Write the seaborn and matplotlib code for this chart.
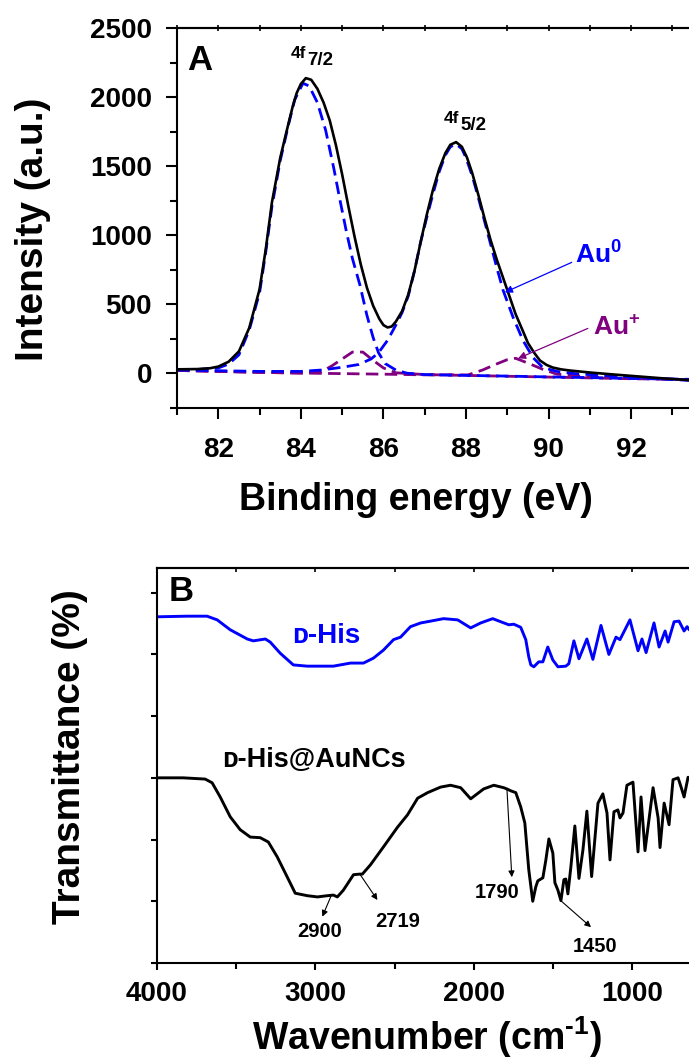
import matplotlib
matplotlib.use("Agg")
import matplotlib.pyplot as plt
import seaborn as sns
from matplotlib.ticker import MultipleLocator, NullFormatter
from matplotlib.transforms import offset_copy

# ---------------- XPS Au 4f (panel A) ----------------
# fitted envelope
env_be = [81.0, 81.5, 81.8, 82.0, 82.25, 82.5, 82.75, 83.0, 83.15, 83.3, 83.5, 83.66,
          83.8, 83.9, 84.0, 84.12, 84.25, 84.4, 84.55, 84.7, 84.85, 85.0, 85.15, 85.3,
          85.45, 85.6, 85.75, 85.9, 86.0, 86.1, 86.2, 86.3, 86.45, 86.6, 86.75, 86.9,
          87.05, 87.2, 87.35, 87.5, 87.62, 87.76, 87.9, 88.02, 88.15, 88.3, 88.45,
          88.6, 88.75, 88.9, 89.05, 89.2, 89.37, 89.5, 89.65, 89.79, 89.95, 90.1,
          90.3, 90.5, 91.0, 91.6, 92.2, 92.8, 93.4]
env_int = [30, 32, 38, 50, 85, 160, 330, 610, 900, 1240, 1560, 1760,
           1930, 2030, 2095, 2137, 2125, 2060, 1960, 1830, 1650, 1440, 1210, 990,
           790, 620, 490, 395, 350, 333, 340, 375, 450, 570, 740, 950,
           1150, 1330, 1480, 1595, 1655, 1674, 1640, 1565, 1450, 1290, 1120,
           960, 819, 690, 560, 430, 312, 220, 150, 94, 62, 43,
           30, 22, 7, -8, -22, -36, -48]

# Au0 4f7/2 component
au0a_be = [81.0, 81.5, 82.0, 82.25, 82.5, 82.75, 83.0, 83.15, 83.3, 83.5, 83.7, 83.85,
           84.05, 84.2, 84.4, 84.6, 84.8, 84.95, 85.1, 85.25, 85.43, 85.6, 85.75,
           85.88, 86.04, 86.3, 86.57, 87.0, 88.0, 89.0, 90.0, 91.0, 92.0, 93.4]
au0a_int = [28, 29, 40, 68, 135, 315, 585, 880, 1210, 1540, 1800, 1980,
            2100, 2080, 1960, 1760, 1480, 1250, 1030, 830, 640, 420, 260,
            150, 72, 25, 2, -8, -14, -19, -25, -30, -36, -42]

# Au0 4f5/2 component
au0b_be = [81.0, 82.0, 83.0, 84.0, 84.5, 85.0, 85.4, 85.7, 85.88, 86.1, 86.3, 86.45,
           86.6, 86.75, 86.9, 87.05, 87.2, 87.35, 87.5, 87.62, 87.76, 87.9, 88.0,
           88.15, 88.3, 88.45, 88.6, 88.75, 88.9, 89.14, 89.38, 89.62, 89.86, 90.2,
           90.6, 91.0, 91.6, 92.2, 92.8, 93.4]
au0b_int = [25, 20, 15, 15, 25, 45, 65, 105, 150, 240, 350, 440,
            560, 740, 950, 1130, 1300, 1460, 1580, 1640, 1660, 1625, 1560,
            1430, 1270, 1100, 930, 760, 600, 406, 239, 116, 43, 15,
            0, -8, -20, -30, -40, -50]

# Au+ 4f7/2 component
aupa_be = [81.0, 82.0, 83.0, 84.0, 84.5, 84.75, 85.0, 85.25, 85.5, 85.75, 86.0, 86.3,
           87.0, 88.0, 89.0, 90.0, 91.0, 92.0, 93.4]
aupa_int = [22, 15, 8, 3, 12, 55, 105, 155, 155, 95, 40, 5,
            -8, -14, -20, -26, -32, -38, -44]

# Au+ 4f5/2 component
aupb_be = [81.0, 82.0, 83.0, 84.0, 85.0, 86.0, 87.0, 88.05, 88.4, 88.75, 89.0, 89.2,
           89.5, 89.86, 90.2, 91.0, 92.0, 93.4]
aupb_int = [22, 15, 8, 3, -1, -5, -10, -10, 25, 70, 100, 110,
            75, 30, -5, -25, -34, -44]

# ---------------- FTIR (panel B) ----------------
his_wn = [3994, 3810, 3684, 3620, 3538, 3430, 3392, 3316, 3285, 3222, 3139, 3051,
          2886, 2778, 2696, 2633, 2570, 2506, 2462, 2399, 2335, 2272, 2190, 2101,
          2019, 1956, 1880, 1829, 1778, 1747, 1703, 1671, 1652, 1639, 1620, 1589,
          1563, 1532, 1500, 1468, 1418, 1399, 1367, 1335, 1285, 1247, 1196, 1146,
          1101, 1076, 1013, 962, 937, 911, 861, 829, 791, 772, 734, 703, 671, 652, 639]
his_t = [56.1, 56.2, 56.2, 55.6, 54.0, 52.5, 52.2, 52.5, 52.0, 50.2, 48.3, 48.1,
         48.1, 48.6, 48.6, 49.4, 50.7, 52.4, 52.8, 54.5, 55.1, 55.4, 55.8, 55.6,
         54.3, 55.1, 55.8, 55.3, 54.8, 54.9, 54.4, 52.4, 49.6, 48.3, 48.0, 48.8,
         48.8, 51.2, 49.1, 48.0, 48.1, 48.5, 52.2, 49.3, 52.5, 49.2, 54.7, 50.0,
         52.8, 52.4, 55.6, 50.6, 52.5, 50.3, 55.1, 51.2, 53.8, 52.0, 55.3, 55.4,
         53.8, 54.5, 54.0]

auncs_wn = [3994, 3835, 3696, 3652, 3601, 3538, 3475, 3411, 3348, 3297, 3241, 3177,
            3127, 3051, 2987, 2924, 2886, 2861, 2823, 2759, 2719, 2703, 2652, 2570,
            2481, 2418, 2354, 2291, 2209, 2146, 2082, 2019, 1937, 1873, 1810, 1790,
            1766, 1734, 1703, 1677, 1652, 1627, 1608, 1595, 1563, 1544, 1525, 1500,
            1487, 1468, 1449, 1430, 1418, 1405, 1386, 1361, 1335, 1310, 1285, 1255,
            1215, 1184, 1158, 1139, 1114, 1089, 1076, 1057, 1032, 994, 962, 943, 918,
            867, 835, 823, 797, 766, 741, 709, 690, 671, 646]
auncs_t = [30.0, 30.0, 29.8, 29.2, 26.9, 23.7, 21.6, 20.4, 20.3, 19.6, 17.2, 13.9,
           11.3, 10.9, 10.7, 10.9, 11.0, 10.7, 11.8, 14.3, 14.4, 14.4, 15.9, 18.8,
           22.0, 24.0, 26.7, 27.6, 28.5, 28.8, 28.4, 26.6, 28.2, 28.8, 28.4, 28.2,
           27.9, 27.6, 25.3, 22.7, 15.1, 10.0, 12.3, 13.3, 13.8, 16.7, 20.1, 17.8,
           13.0, 11.8, 10.1, 13.5, 13.6, 11.2, 15.6, 22.2, 13.7, 18.3, 24.6, 14.0,
           25.9, 27.4, 24.3, 16.7, 24.5, 24.8, 23.5, 24.3, 28.8, 29.3, 18.0, 26.9, 18.2,
           28.4, 23.5, 18.7, 25.9, 22.4, 29.7, 30.0, 28.5, 26.9, 30.1]

# marked bands: label, wavenumber on the AuNCs curve, arrow tip, label position
band_labels = ["2900", "2719", "1790", "1450"]
band_wn = [2900, 2719, 1790, 1450]
band_t = [10.9, 14.4, 28.2, 10.1]
band_tip_wn = [2956, 2608, 1759, 1259]
band_tip_t = [7.5, 10.2, 13.9, 5.8]
band_text_wn = [2970, 2481, 1855, 1233]
band_text_t = [4.2, 5.8, 10.5, 1.8]

BLUE = "#0000FF"
PURPLE = "#800080"

sns.set_theme(style="ticks")
plt.rcParams.update({
    "font.family": ["Liberation Sans", "DejaVu Sans"],
    "font.weight": "bold",
    "axes.labelweight": "bold",
    "mathtext.fontset": "custom",
    "mathtext.rm": "Liberation Sans:bold",
    "mathtext.bf": "Liberation Sans:bold",
    "mathtext.it": "Liberation Sans:bold",
    "axes.linewidth": 1.5,
    "axes.edgecolor": "black",
    "text.color": "black",
    "axes.labelcolor": "black",
    "xtick.color": "black",
    "ytick.color": "black",
    "axes.facecolor": "white",
    "figure.facecolor": "white",
})

fig = plt.figure(figsize=(6.89, 10.59), dpi=100)
axA = fig.add_axes([0.2569, 0.6147, 0.7431, 0.3589])
axB = fig.add_axes([0.2279, 0.0907, 0.7721, 0.3729])

# ---------- panel A ----------
dash = (0, (4.5, 2.3))
for be, inten, col in [(aupa_be, aupa_int, PURPLE), (aupb_be, aupb_int, PURPLE),
                       (au0a_be, au0a_int, BLUE), (au0b_be, au0b_int, BLUE)]:
    sns.lineplot(x=be, y=inten, ax=axA, color=col, lw=2.0, linestyle=dash,
                 sort=False, estimator=None)
sns.lineplot(x=env_be, y=env_int, ax=axA, color="black", lw=1.9,
             sort=False, estimator=None)

axA.set_xlim(81.0, 93.4)
axA.set_ylim(-250, 2500)
axA.xaxis.set_major_locator(MultipleLocator(2))
axA.xaxis.set_minor_locator(MultipleLocator(1))
axA.yaxis.set_major_locator(MultipleLocator(500))
axA.yaxis.set_minor_locator(MultipleLocator(250))
axA.tick_params(axis="both", which="major", direction="out", length=8, width=1.5,
                labelsize=20)
axA.tick_params(axis="both", which="minor", direction="out", length=5, width=1.5)
axA.tick_params(axis="x", which="major", pad=13)
axA.tick_params(axis="y", which="major", pad=10)
axA.spines["right"].set_visible(False)
secA = axA.secondary_xaxis("top")
secA.xaxis.set_major_locator(MultipleLocator(1))
secA.xaxis.set_major_formatter(NullFormatter())
secA.tick_params(axis="x", which="major", direction="inout", length=5, width=1.2)
secA.spines["top"].set_linewidth(1.5)

axA.set_xlabel("Binding energy (eV)", fontsize=27, fontweight="bold")
axA.set_ylabel("Intensity (a.u.)", fontsize=28, fontweight="bold")
axA.xaxis.set_label_coords(0.466, -0.195)
axA.yaxis.set_label_coords(-0.246, 0.471)

axA.text(81.56, 2268, "A", fontsize=25, fontweight="bold", ha="center", va="center")

# peak labels 4f7/2, 4f5/2
for pe, py_, sub in [(84.12, 2283, "7/2"), (87.83, 1811, "5/2")]:
    axA.text(pe, py_, "4f", fontsize=12.5, fontweight="bold", ha="right", va="baseline")
    axA.text(pe, py_, sub, fontsize=13.5, fontweight="bold", ha="left", va="baseline",
             transform=offset_copy(axA.transData, fig=fig, x=1, y=-7, units="dots"))

axA.annotate("", xy=(88.94, 587), xytext=(90.56, 804),
             arrowprops=dict(arrowstyle="-|>", color=BLUE, lw=0.9, mutation_scale=11,
                             shrinkA=0, shrinkB=0))
axA.text(90.64, 797, r"$\mathbf{Au^{0}}$", color=BLUE, fontsize=19,
         ha="left", va="baseline")
axA.annotate("", xy=(89.26, 109), xytext=(90.95, 326),
             arrowprops=dict(arrowstyle="-|>", color=PURPLE, lw=0.9, mutation_scale=11,
                             shrinkA=0, shrinkB=0))
axA.text(91.07, 275, r"$\mathbf{Au^{+}}$", color=PURPLE, fontsize=19,
         ha="left", va="baseline")

# ---------- panel B ----------
sns.lineplot(x=his_wn, y=his_t, ax=axB, color=BLUE, lw=2.1, sort=False, estimator=None)
sns.lineplot(x=auncs_wn, y=auncs_t, ax=axB, color="black", lw=2.1, sort=False,
             estimator=None)

axB.set_xlim(4000, 640)
axB.set_ylim(0, 64)
axB.xaxis.set_major_locator(MultipleLocator(1000))
axB.xaxis.set_minor_locator(MultipleLocator(500))
axB.yaxis.set_major_locator(MultipleLocator(10))
axB.yaxis.set_major_formatter(NullFormatter())
axB.tick_params(axis="x", which="major", direction="out", length=5, width=1.5,
                labelsize=20, pad=8)
axB.tick_params(axis="x", which="minor", direction="out", length=4, width=1.5)
axB.tick_params(axis="y", which="major", direction="out", length=4, width=1.5)
axB.spines["right"].set_visible(False)
secB = axB.secondary_xaxis("top")
secB.xaxis.set_major_locator(MultipleLocator(500))
secB.xaxis.set_major_formatter(NullFormatter())
secB.tick_params(axis="x", which="major", direction="in", length=3, width=1.2)
secB.spines["top"].set_linewidth(1.5)

axB.set_xlabel(r"Wavenumber (cm$^{\text{-1}}$)", fontsize=27, fontweight="bold")
axB.set_ylabel("Transmittance (%)", fontsize=28, fontweight="bold")
axB.xaxis.set_label_coords(0.5066, -0.13)
axB.yaxis.set_label_coords(-0.1297, 0.523)

axB.text(3848, 60.2, "B", fontsize=25, fontweight="bold", ha="center", va="center")
axB.text(3147, 51.9, "ᴅ-His", color=BLUE, fontsize=20, fontweight="bold",
         ha="left", va="baseline")
axB.text(3589, 31.7, "ᴅ-His@AuNCs", color="black", fontsize=19.5, fontweight="bold",
         ha="left", va="baseline")

for lab, wn, t, twn, tt, xwn, xt in zip(band_labels, band_wn, band_t, band_tip_wn,
                                         band_tip_t, band_text_wn, band_text_t):
    axB.annotate("", xy=(twn, tt), xytext=(wn, t),
                 arrowprops=dict(arrowstyle="-|>", color="black", lw=0.8,
                                 mutation_scale=9, shrinkA=0, shrinkB=0))
    axB.text(xwn, xt, lab, fontsize=14.5, fontweight="bold", ha="center", va="baseline")

fig.savefig("out.png", dpi=100)
